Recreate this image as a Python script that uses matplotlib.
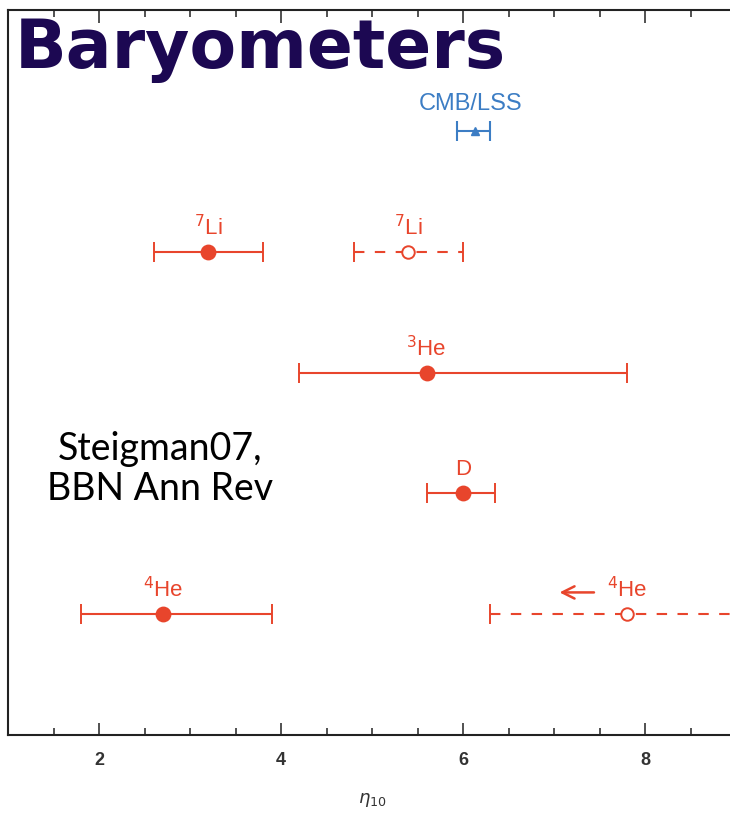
import matplotlib
matplotlib.use("Agg")
import matplotlib.pyplot as plt
from matplotlib.ticker import MultipleLocator

RED = "#E8452C"
BLUE = "#3C7DC4"
NAVY = "#1C0852"

# measurements: label, centre, minus error, plus error, row
labels = [r"$^{7}$Li", r"$^{7}$Li", r"$^{3}$He", "D", r"$^{4}$He"]
centres = [3.2, 5.4, 5.6, 6.0, 2.7]
err_lo = [0.6, 0.6, 1.4, 0.4, 0.9]
err_hi = [0.6, 0.6, 2.2, 0.35, 1.2]
rows = [4, 4, 3, 2, 1]
open_marker = [False, True, False, False, False]

# CMB/LSS
cmb_x, cmb_lo, cmb_hi, cmb_row = 6.13, 0.2, 0.17, 5

# 4He upper bound (open, dashed to the right)
he_x, he_lo, he_hi, he_row = 7.8, 1.5, 3.0, 1

fig = plt.figure(figsize=(7.3, 8.14), dpi=100)
ax = fig.add_axes([8 / 730, 1 - 735 / 814, 728 / 730, 725 / 814])

ax.errorbar(cmb_x, cmb_row, xerr=[[cmb_lo], [cmb_hi]], fmt="^", ms=6,
            color=BLUE, ecolor=BLUE, elinewidth=1.5, capsize=7, capthick=1.5)
ax.text(cmb_x - 0.05, cmb_row + 0.22, "CMB/LSS", color=BLUE, fontsize=17,
        ha="center", va="center", family="Liberation Sans")

for lab, x, lo, hi, r, op in zip(labels, centres, err_lo, err_hi, rows, open_marker):
    eb = ax.errorbar(x, r, xerr=[[lo], [hi]], fmt="o", ms=10 if not op else 9,
                     mfc="white" if op else RED, mec=RED, mew=1.4,
                     color=RED, ecolor=RED, elinewidth=1.5, capsize=7,
                     capthick=1.5)
    if op:
        eb[2][0].set_linestyle((0, (5, 5)))
    ax.text(x, r + 0.2, lab, color=RED, fontsize=16, ha="center",
            va="center", family="Liberation Sans")

eb = ax.errorbar(he_x, he_row, xerr=[[he_lo], [he_hi]], fmt="o", ms=9,
                 mfc="white", mec=RED, mew=1.4, color=RED, ecolor=RED,
                 elinewidth=1.5, capsize=7, capthick=1.5)
eb[2][0].set_linestyle((0, (5, 5)))
ax.text(he_x, he_row + 0.2, r"$^{4}$He", color=RED, fontsize=16,
        ha="center", va="center", family="Liberation Sans")
ax.annotate("", xy=(he_x - 0.77, he_row + 0.18), xytext=(he_x - 0.33, he_row + 0.18),
            arrowprops=dict(arrowstyle="->", color=RED, lw=1.8,
                            mutation_scale=22))

ax.set_xlim(1, 9)
ax.set_ylim(0, 6)
ax.xaxis.set_major_locator(MultipleLocator(2))
ax.xaxis.set_minor_locator(MultipleLocator(0.5))
ax.tick_params(axis="x", which="both", direction="in", top=True,
               labelsize=13, pad=12, width=1.2, colors="#333333")
ax.tick_params(axis="x", which="major", length=9)
ax.tick_params(axis="x", which="minor", length=5)
ax.set_yticks([])
for lbl in ax.get_xticklabels():
    lbl.set_fontweight("bold")
    lbl.set_family("Liberation Sans")
for s in ax.spines.values():
    s.set_linewidth(1.5)
    s.set_color("#222222")

ax.set_xlabel(r"$\eta_{10}$", fontsize=13, labelpad=16, color="#333333")

fig.text(15 / 730, 1 - 68 / 814, "Baryometers", fontsize=49,
         fontweight="bold", color=NAVY, family="DejaVu Sans", va="baseline")
fig.text(160 / 730, 1 - 469 / 814, "Steigman07,\nBBN Ann Rev", fontsize=27,
         color="black", family="Lato", ha="center", va="center",
         linespacing=1.12)

fig.savefig("out.png", dpi=100)
